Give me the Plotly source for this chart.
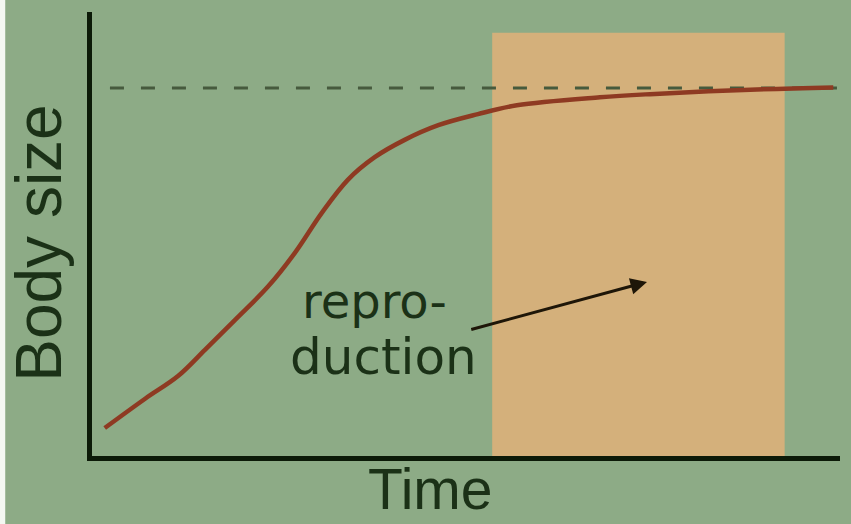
import plotly.graph_objects as go

# growth curve (arbitrary units, 0-100)
time = [1.7, 7.1, 11.5, 15.1, 19.1, 23.5, 27.1, 30.7, 34.2, 37.8, 41.8, 46.3,
        51.6, 56.8, 67.9, 74.6, 88.0, 99.1]
body_size = [6.3, 12.9, 18.0, 23.9, 30.6, 38.1, 45.7, 54.7, 62.2, 67.3, 71.2, 74.5,
             77.0, 79.0, 80.8, 81.5, 82.5, 83.0]

max_size = 82.9
max_line_time = [2.4, 100]
repro_window = [53.5, 92.6]

GREEN = "#8dab86"
ORANGE = "#d4b07b"
INK = "#1b3117"

fig = go.Figure()

# asymptote
fig.add_trace(go.Scatter(
    x=max_line_time, y=[max_size, max_size],
    mode="lines",
    line=dict(color="#465a3d", width=3, dash="14px,17px"),
    hoverinfo="skip", showlegend=False
))

# growth curve
fig.add_trace(go.Scatter(
    x=time, y=body_size,
    mode="lines",
    line=dict(color="#8e3a22", width=4.5, shape="spline", smoothing=1),
    showlegend=False
))

fig.add_shape(type="rect", xref="x", yref="y",
              x0=repro_window[0], x1=repro_window[1], y0=0, y1=95.3,
              fillcolor=ORANGE, line_width=0, layer="below")

# thin white strip at the left edge of the image
fig.add_shape(type="rect", xref="paper", yref="paper",
              x0=-0.124, x1=-0.116, y0=-0.2, y1=1.05,
              fillcolor="#f4f8f2", line_width=0, layer="below")

fig.add_annotation(x=37.8, y=34.8, xref="x", yref="y",
                   text="repro-", showarrow=False,
                   font=dict(size=48, color=INK, family="DejaVu Sans"))
fig.add_annotation(x=39.0, y=22.3, xref="x", yref="y",
                   text="duction", showarrow=False,
                   font=dict(size=50, color=INK, family="DejaVu Sans"))

fig.add_annotation(x=74.2, y=39.2, ax=50.5, ay=28.4,
                   xref="x", yref="y", axref="x", ayref="y",
                   text="", showarrow=True, arrowhead=2, arrowsize=1.1,
                   arrowwidth=3, arrowcolor="#1e1608")

fig.add_annotation(x=0.452, y=-0.074, xref="paper", yref="paper",
                   xanchor="center", yanchor="middle",
                   text="Time", showarrow=False,
                   font=dict(size=57, color=INK))

fig.add_annotation(x=-0.071, y=0.48, xref="paper", yref="paper",
                   xanchor="center", yanchor="middle",
                   text="Body size", showarrow=False, textangle=-90,
                   font=dict(size=64, color=INK))

fig.update_xaxes(range=[0, 100], showline=True, linecolor="#0c1a08", linewidth=5,
                 showgrid=False, zeroline=False, showticklabels=False, ticks="")
fig.update_yaxes(range=[0, 100], showline=True, linecolor="#0c1a08", linewidth=5,
                 showgrid=False, zeroline=False, showticklabels=False, ticks="")

fig.update_layout(
    width=851, height=524,
    margin=dict(l=92, r=11, t=12, b=68),
    paper_bgcolor=GREEN, plot_bgcolor=GREEN,
    font=dict(family="Liberation Sans, Arial, sans-serif"),
    showlegend=False
)

fig.write_html("out.html", config={"displayModeBar": False},
               post_script="document.body.style.margin='0';")
